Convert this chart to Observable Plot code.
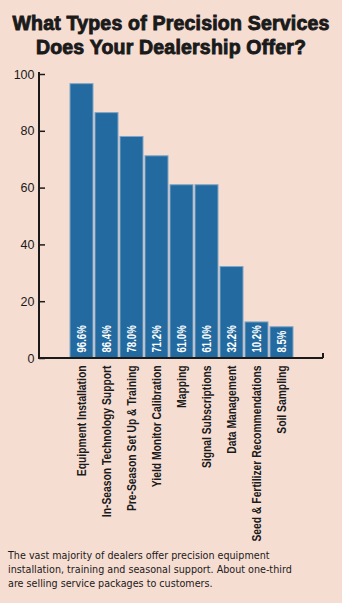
<!DOCTYPE html>
<html>
<head>
<meta charset="utf-8">
<script src="https://cdn.jsdelivr.net/npm/d3@7"></script>
<script src="https://cdn.jsdelivr.net/npm/@observablehq/plot@0.6"></script>
<style>
  html, body { margin: 0; padding: 0; background: #f6ddd2; width: 342px; height: 603px; overflow: hidden; }
  #title { font-family: "Liberation Sans", Arial, sans-serif; font-weight: bold; font-size: 19.5px; line-height: 24px;
           text-align: center; color: #1a1a1a; padding-top: 11px; height: 49px; -webkit-text-stroke: 0.9px #1a1a1a; letter-spacing: 0.2px; }
  #caption { font-family: "DejaVu Sans", sans-serif; font-size: 9.6px; line-height: 14px; color: #1a1a1a;
             padding-left: 8px; margin-top: 4px; width: 340px; white-space: nowrap; }
  #chart svg { display: block; }
</style>
</head>
<body>
<div id="title">What Types of Precision Services<br>Does Your Dealership Offer?</div>
<div id="chart"></div>
<div id="caption">The vast majority of dealers offer precision equipment<br>installation, training and seasonal support. About one-third<br>are selling service packages to customers.</div>
<script>
const categories = ["Equipment Installation", "In-Season Technology Support", "Pre-Season Set Up & Training",
  "Yield Monitor Calibration", "Mapping", "Signal Subscriptions", "Data Management",
  "Seed & Fertilizer Recommendations", "Soil Sampling"];
const values = [96.6, 86.4, 78.0, 71.2, 61.0, 61.0, 32.2, 10.2, 8.5];
// drawn bar heights (short bars are drawn taller to fit their labels)
const barHeights = [96.6, 86.4, 78.0, 71.2, 61.0, 61.0, 32.2, 12.7, 11.0];
const yTicks = [0, 20, 40, 60, 80, 100];

const data = categories.map((c, i) => ({cat: c, value: values[i], bar: barHeights[i], label: values[i].toFixed(1) + "%"}));
const font = "'Liberation Sans', Arial, sans-serif";

const W = 342, H = 485, mL = 39, mR = 19, mT = 12, mB = 187;

// axis lines drawn from the plot's own dimensions
function axisLines(index, scales, values, dim) {
  const g = document.createElementNS("http://www.w3.org/2000/svg", "g");
  const x0 = dim.marginLeft, y0 = dim.height - dim.marginBottom, xr = dim.width - dim.marginRight;
  const path = document.createElementNS("http://www.w3.org/2000/svg", "path");
  path.setAttribute("d", `M${x0},${dim.marginTop}V${y0}H${xr}M${xr},${y0}v-5`);
  path.setAttribute("fill", "none");
  path.setAttribute("stroke", "#1a1a1a");
  path.setAttribute("stroke-width", 2);
  g.appendChild(path);
  return g;
}

const chart = Plot.plot({
  width: W, height: H,
  marginLeft: mL, marginRight: mR, marginTop: mT, marginBottom: mB,
  style: {background: "transparent", color: "#1a1a1a"},
  x: {domain: categories, paddingInner: 0.1, paddingOuter: 1.155, align: 0.5, label: null},
  y: {domain: [0, 100], insetTop: 2, label: null},
  marks: [
    Plot.barY(data, {x: "cat", y: "bar", fill: "#226a9f", stroke: "#7ea6c6", strokeWidth: 1}),
    Plot.text(data, {x: "cat", y: 0, text: "label", rotate: -90, textAnchor: "start", dy: -6,
      fill: "white", fontWeight: "bold", fontSize: 12, fontFamily: font}),
    Plot.ruleY(yTicks, {y: d => d, stroke: "#1a1a1a", strokeWidth: 1.5, insetRight: W - mL - mR - 6}),
    Plot.axisY({ticks: yTicks, tickSize: 0, tickPadding: 5, fontSize: 12.5, fontFamily: font, label: null}),
    Plot.axisX({tickSize: 0, tickPadding: 7, tickRotate: -90, fontSize: 12, fontWeight: "bold",
      fontFamily: font, label: null}),
    axisLines
  ]
});

// condense the rotated labels along their reading direction
chart.querySelectorAll("text").forEach(t => {
  const tr = t.getAttribute("transform");
  if (tr && tr.includes("rotate(-90)")) {
    const isAxis = (t.parentNode.getAttribute("aria-label") || "").includes("axis");
    t.setAttribute("transform", tr + (isAxis ? " scale(0.86,1)" : " scale(0.8,1)"));
  }
});
document.getElementById("chart").appendChild(chart);
</script>
</body>
</html>
